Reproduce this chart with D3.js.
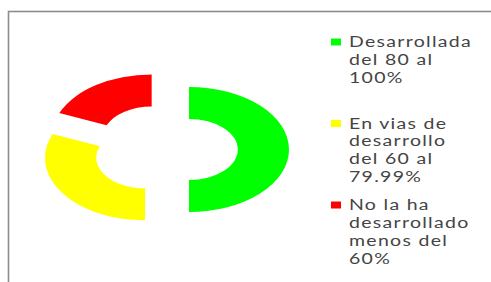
<!DOCTYPE html>
<html>
<head>
<meta charset="utf-8">
<script src="https://cdn.jsdelivr.net/npm/d3@7"></script>
<style>
  body { margin: 0; background: #fff; }
  svg { display: block; }
</style>
</head>
<body>
<div class="chart"></div>
<script>
// chart data
var categories = ["Desarrollada del 80 al 100%", "En vias de desarrollo del 60 al 79.99%", "No la ha desarrollado menos del 60%"];
var values = [8, 5, 3];
var legendLines = [
    ["Desarrollada", "del 80 al", "100%"],
    ["En vias de", "desarrollo", "del 60 al", "79.99%"],
    ["No la ha", "desarrollado", "menos del", "60%"]
];
var colors = ["#00ff00", "#ffff00", "#ff0000"];

var svgWidth = 491;
var svgHeight = 282;

var svg = d3.select(".chart")
    .append("svg")
    .attr("width", svgWidth)
    .attr("height", svgHeight);

// chart frame (runs off the right and bottom edges)
svg.append("rect")
    .attr("x", 8.5)
    .attr("y", 11.5)
    .attr("width", svgWidth)
    .attr("height", svgHeight)
    .attr("fill", "#fff")
    .attr("stroke", "#8c8c8c")
    .attr("stroke-width", 1.6);

// doughnut geometry: drawn as a circle, then stretched sideways
var cx = 165, cy = 149.5;
var outerR = 62.5, innerR = 30.5;
var stretch = 1.6;
var explode = 15;

var pie = d3.pie().sort(null).value(d => d);
var arc = d3.arc().innerRadius(innerR).outerRadius(outerR);

var donut = svg.append("g")
    .attr("transform", `translate(${cx},${cy}) scale(${stretch},1)`);

donut.selectAll("path")
    .data(pie(values))
    .enter()
    .append("path")
    .attr("d", arc)
    .attr("fill", (d, i) => colors[i])
    .attr("transform", function(d) {
        var mid = (d.startAngle + d.endAngle) / 2;
        return `translate(${Math.sin(mid) * explode},${-Math.cos(mid) * explode})`;
    });

// legend
var legendX = 331, legendTop = 42, slot = 81.5, lineH = 18;
var textScale = 1.3;

var legend = svg.append("g");
var entries = legend.selectAll("g")
    .data(categories)
    .enter()
    .append("g")
    .attr("transform", (d, i) => `translate(${legendX},${legendTop + i * slot})`);

entries.append("rect")
    .attr("x", 0)
    .attr("y", -3.5)
    .attr("width", 10)
    .attr("height", 7)
    .attr("fill", (d, i) => colors[i]);

entries.each(function(d, i) {
    var t = d3.select(this).append("text")
        .attr("transform", `translate(18,0) scale(${textScale},1)`)
        .attr("font-family", "Lato, 'Open Sans', sans-serif")
        .attr("font-size", 15)
        .attr("letter-spacing", 1)
        .attr("fill", "#444");
    t.selectAll("tspan")
        .data(legendLines[i])
        .enter()
        .append("tspan")
        .attr("x", 0)
        .attr("y", (s, j) => j * lineH + 5)
        .text(s => s);
});
</script>
</body>
</html>
